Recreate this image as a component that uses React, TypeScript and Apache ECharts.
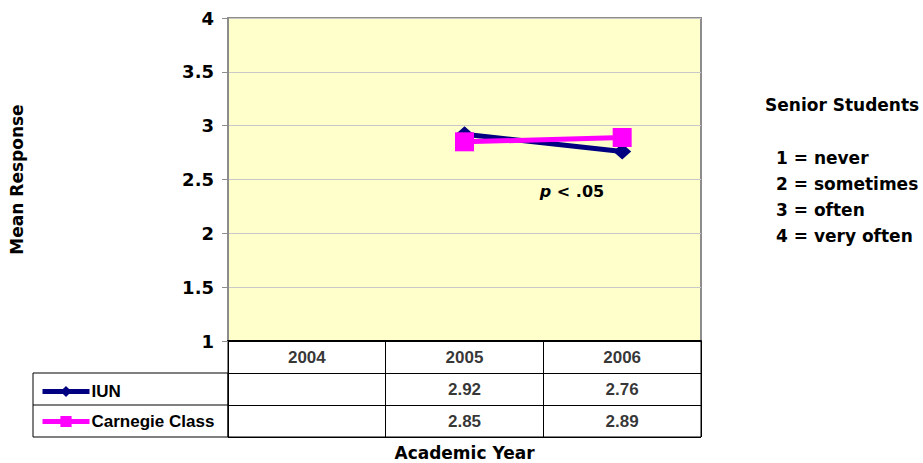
import React, { useEffect, useRef } from "react";
import * as echarts from "echarts";

const categories = ["2004", "2005", "2006"];
const iunValues: (number | null)[] = [null, 2.92, 2.76];
const carnegieValues: (number | null)[] = [null, 2.85, 2.89];
const seriesNames = ["IUN", "Carnegie Class"];
const tableRows = ["hdr", "IUN", "Carnegie Class"];
const scaleTitle = "Senior Students";
const scaleNotes = ["1 = never", "2 = sometimes", "3 = often", "4 = very often"];

const WIDE = "'DejaVu Sans', Verdana, sans-serif";
const ARIAL = "'Liberation Sans', Arial, sans-serif";

export default function App() {
  const ref = useRef<HTMLDivElement>(null);
  useEffect(() => {
    if (!ref.current) return;
    const chart = echarts.init(ref.current, undefined, { renderer: "svg" });

    const cellData: any[] = [];
    categories.forEach((c) => cellData.push([c, "hdr", c]));
    categories.forEach((c, i) => {
      const v = iunValues[i];
      if (v != null) cellData.push([c, "IUN", v.toFixed(2)]);
    });
    categories.forEach((c, i) => {
      const v = carnegieValues[i];
      if (v != null) cellData.push([c, "Carnegie Class", v.toFixed(2)]);
    });

    const option: any = {
      animation: false,
      backgroundColor: "#ffffff",
      grid: [
        {
          left: 228,
          top: 18,
          width: 473,
          height: 323,
          show: true,
          backgroundColor: "#FFFFCC",
          borderColor: "#8c8c8c",
          borderWidth: 2,
        },
        {
          left: 228,
          top: 341,
          width: 473,
          height: 96,
          show: true,
          borderColor: "#000000",
          borderWidth: 1,
        },
      ],
      xAxis: [
        {
          gridIndex: 0,
          type: "category",
          data: categories,
          boundaryGap: true,
          axisLine: { show: true, lineStyle: { color: "#000000", width: 2 } },
          axisTick: { show: false },
          axisLabel: { show: false },
          splitLine: { show: false },
        },
        {
          gridIndex: 1,
          type: "category",
          data: categories,
          boundaryGap: true,
          axisLine: { show: false },
          axisTick: { show: false },
          axisLabel: { show: false },
          splitLine: { show: true, lineStyle: { color: "#000000", width: 1 } },
          name: "Academic Year",
          nameLocation: "middle",
          nameGap: 7,
          nameTextStyle: {
            fontFamily: WIDE,
            fontWeight: "bold",
            fontSize: 17,
            color: "#000",
            verticalAlign: "top",
          },
        },
      ],
      yAxis: [
        {
          gridIndex: 0,
          type: "value",
          min: 1,
          max: 4,
          interval: 0.5,
          axisLine: { show: true, lineStyle: { color: "#8c8c8c", width: 2 } },
          axisTick: { show: true, length: 6, lineStyle: { color: "#8c8c8c" } },
          axisLabel: {
            fontFamily: WIDE,
            fontWeight: "bold",
            fontSize: 18,
            color: "#000",
            margin: 14,
          },
          splitLine: { show: true, lineStyle: { color: "#c8c8c8", width: 1 } },
          name: "Mean Response",
          nameLocation: "middle",
          nameRotate: 90,
          nameGap: 203,
          nameTextStyle: {
            fontFamily: WIDE,
            fontWeight: "bold",
            fontSize: 17,
            color: "#000",
          },
        },
        {
          gridIndex: 1,
          type: "category",
          data: tableRows,
          inverse: true,
          axisLine: { show: false },
          axisTick: { show: false },
          axisLabel: { show: false },
          splitLine: { show: true, lineStyle: { color: "#000000", width: 1 } },
        },
      ],
      legend: {
        data: [
          { name: seriesNames[0], lineStyle: { width: 5, color: "#000080" } },
          { name: seriesNames[1], lineStyle: { width: 5, color: "#FF00FF" } },
        ],
        orient: "vertical",
        left: 35,
        top: 378,
        itemWidth: 47,
        itemHeight: 14,
        itemGap: 13,
        textStyle: {
          fontFamily: ARIAL,
          fontWeight: "bold",
          fontSize: 17,
          color: "#000",
          padding: [0, 0, 0, -3],
        },
      },
      series: [
        {
          name: seriesNames[0],
          type: "line",
          xAxisIndex: 0,
          yAxisIndex: 0,
          data: iunValues,
          symbol: "diamond",
          symbolSize: [18, 16],
          lineStyle: { color: "#000080", width: 5 },
          itemStyle: { color: "#000080" },
          z: 3,
        },
        {
          name: seriesNames[1],
          type: "line",
          xAxisIndex: 0,
          yAxisIndex: 0,
          data: carnegieValues,
          symbol: "rect",
          symbolSize: 19,
          lineStyle: { color: "#FF00FF", width: 5 },
          itemStyle: { color: "#FF00FF" },
          z: 4,
        },
        {
          name: "table",
          type: "scatter",
          xAxisIndex: 1,
          yAxisIndex: 1,
          data: cellData,
          symbol: "circle",
          symbolSize: 1,
          itemStyle: { color: "rgba(0,0,0,0)" },
          silent: true,
          label: {
            show: true,
            position: "inside",
            formatter: (p: any) => p.data[2],
            fontFamily: ARIAL,
            fontWeight: "bold",
            fontSize: 17,
            color: "#000",
          },
        },
      ],
      graphic: [
        {
          type: "rect",
          shape: { x: 33, y: 373, width: 195, height: 64 },
          style: { fill: "none", stroke: "#000", lineWidth: 1 },
          silent: true,
        },
        {
          type: "line",
          shape: { x1: 33, y1: 405, x2: 228, y2: 405 },
          style: { stroke: "#000", lineWidth: 1 },
          silent: true,
        },
        {
          type: "text",
          x: 572,
          y: 191,
          style: {
            text: "{i|p} < .05",
            align: "center",
            verticalAlign: "middle",
            fontFamily: WIDE,
            fontWeight: "bold",
            fontSize: 16,
            fill: "#000",
            rich: {
              i: {
                fontFamily: WIDE,
                fontWeight: "bold",
                fontStyle: "italic",
                fontSize: 16,
                fill: "#000",
              },
            },
          },
          z: 10,
        },
        {
          type: "text",
          x: 765,
          y: 105,
          style: {
            text: scaleTitle,
            verticalAlign: "middle",
            fontFamily: WIDE,
            fontWeight: "bold",
            fontSize: 17,
            fill: "#000",
          },
        },
        ...scaleNotes.map((t, i) => ({
          type: "text",
          x: 776,
          y: 158 + i * 26,
          style: {
            text: t,
            verticalAlign: "middle",
            fontFamily: WIDE,
            fontWeight: "bold",
            fontSize: 17,
            fill: "#000",
          },
        })),
      ],
    };
    chart.setOption(option);
    return () => chart.dispose();
  }, []);
  return (
    <div
      ref={ref}
      style={{ position: "fixed", left: 0, top: 0, width: 923, height: 463 }}
    />
  );
}
